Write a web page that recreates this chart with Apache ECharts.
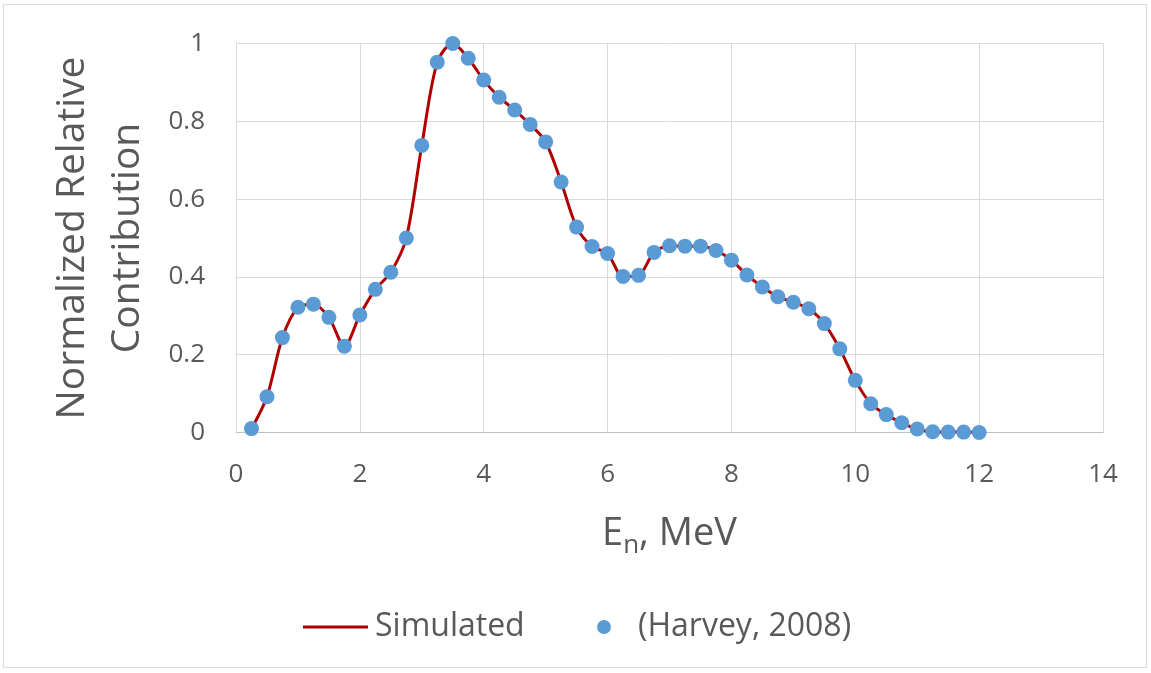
<!DOCTYPE html>
<html>
<head>
<meta charset="utf-8">
<script src="https://cdn.jsdelivr.net/npm/echarts@6/dist/echarts.min.js"></script>
<style>
  html, body { margin: 0; padding: 0; background: #fff; }
  #frame { position: absolute; left: 3px; top: 4px; width: 1144px; height: 664px; border: 1px solid #d9d9d9; box-sizing: border-box; }
  #chart { position: absolute; left: 0; top: 0; width: 1151px; height: 673px; }
</style>
</head>
<body>
<div id="frame"></div>
<div id="chart"></div>
<script>
// Neutron energy grid (MeV)
const energies = [0.25, 0.5, 0.75, 1.0, 1.25, 1.5, 1.75, 2.0, 2.25, 2.5, 2.75, 3.0, 3.25, 3.5, 3.75,
  4.0, 4.25, 4.5, 4.75, 5.0, 5.25, 5.5, 5.75, 6.0, 6.25, 6.5, 6.75, 7.0, 7.25, 7.5, 7.75,
  8.0, 8.25, 8.5, 8.75, 9.0, 9.25, 9.5, 9.75, 10.0, 10.25, 10.5, 10.75, 11.0, 11.25, 11.5, 11.75, 12.0];

// Simulated normalized contribution
const simulated = [0.01, 0.092, 0.244, 0.322, 0.33, 0.296, 0.222, 0.302, 0.368, 0.412, 0.5, 0.738, 0.952, 1.0, 0.962,
  0.906, 0.862, 0.829, 0.792, 0.747, 0.644, 0.528, 0.478, 0.46, 0.401, 0.404, 0.463, 0.48, 0.479, 0.479, 0.468,
  0.443, 0.405, 0.374, 0.349, 0.335, 0.318, 0.28, 0.215, 0.134, 0.074, 0.046, 0.025, 0.009, 0.002, 0.001, 0.001, 0.0];

// Reference spectrum (Harvey, 2008)
const harvey = [0.01, 0.092, 0.244, 0.322, 0.33, 0.296, 0.222, 0.302, 0.368, 0.412, 0.5, 0.738, 0.952, 1.0, 0.962,
  0.906, 0.862, 0.829, 0.792, 0.747, 0.644, 0.528, 0.478, 0.46, 0.401, 0.404, 0.463, 0.48, 0.479, 0.479, 0.468,
  0.443, 0.405, 0.374, 0.349, 0.335, 0.318, 0.28, 0.215, 0.134, 0.074, 0.046, 0.025, 0.009, 0.002, 0.001, 0.001, 0.0];

const xTicks = [0, 2, 4, 6, 8, 10, 12, 14];
const yTicks = [0, 0.2, 0.4, 0.6, 0.8, 1];

const FONT = '"Open Sans", Lato, sans-serif';
const TEXT = '#595959';

const chart = echarts.init(document.getElementById('chart'), null, { renderer: 'canvas' });
chart.setOption({
  animation: false,
  grid: { left: 236, right: 48, top: 43.5, bottom: 240.5, containLabel: false },
  xAxis: {
    type: 'value', min: xTicks[0], max: xTicks[xTicks.length - 1], interval: 2,
    axisLine: { show: true, lineStyle: { color: '#bfbfbf', width: 1 } },
    axisTick: { show: false },
    splitLine: { show: true, lineStyle: { color: '#d9d9d9', width: 1 } },
    axisLabel: { color: TEXT, fontFamily: FONT, fontSize: 26, margin: 29 },
    name: '{a|E}{s|n}{a|, MeV}',
    nameLocation: 'middle', nameGap: 78,
    nameTextStyle: {
      rich: {
        a: { fontFamily: FONT, fontSize: 38, color: TEXT },
        s: { fontFamily: FONT, fontSize: 26, color: TEXT, padding: [22, 0, 0, 0] }
      }
    }
  },
  yAxis: {
    type: 'value', min: yTicks[0], max: yTicks[yTicks.length - 1], interval: 0.2,
    axisLine: { show: true, lineStyle: { color: '#d9d9d9', width: 1 } },
    axisTick: { show: false },
    splitLine: { show: true, lineStyle: { color: '#d9d9d9', width: 1 } },
    axisLabel: { color: TEXT, fontFamily: FONT, fontSize: 26, margin: 31,
      formatter: v => String(+v.toFixed(1)) },
    name: 'Normalized Relative\nContribution',
    nameLocation: 'middle', nameRotate: 90, nameGap: 81,
    nameTextStyle: { fontFamily: FONT, fontSize: 39, color: TEXT, lineHeight: 55 }
  },
  legend: [
    {
      data: [{ name: 'Simulated', icon: 'rect' }],
      left: 298, top: 606,
      itemWidth: 65, itemHeight: 3,
      textStyle: { fontFamily: FONT, fontSize: 32, color: TEXT, padding: [0, 0, 0, 2] }
    },
    {
      data: [{ name: '(Harvey, 2008)', icon: 'circle' }],
      left: 592, top: 606,
      itemWidth: 14, itemHeight: 14,
      textStyle: { fontFamily: FONT, fontSize: 32, color: TEXT, padding: [0, 0, 0, 22] }
    }
  ],
  series: [
    {
      name: 'Simulated', type: 'line',
      data: energies.map((e, i) => [e, simulated[i]]),
      smooth: 0.3, symbol: 'none',
      color: '#b00000',
      lineStyle: { color: '#b00000', width: 3 },
      z: 2
    },
    {
      name: '(Harvey, 2008)', type: 'scatter',
      data: energies.map((e, i) => [e, harvey[i]]),
      symbol: 'circle', symbolSize: 15,
      itemStyle: { color: '#5b9bd5', opacity: 1 },
      z: 3
    }
  ]
});
</script>
</body>
</html>
